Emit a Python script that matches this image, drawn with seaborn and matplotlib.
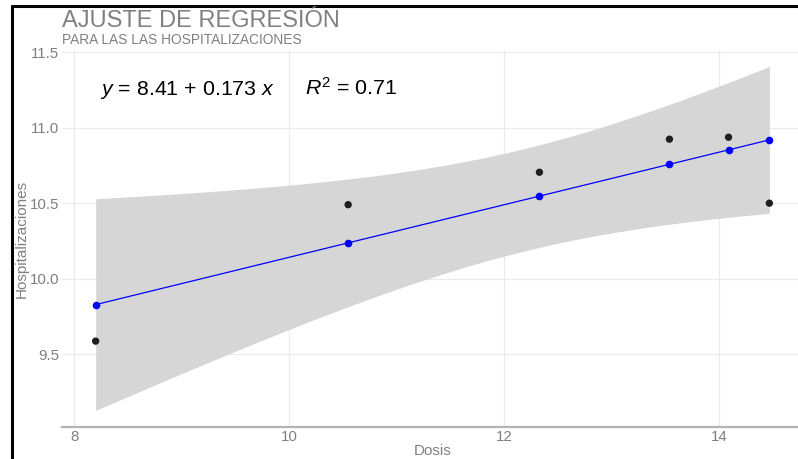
import numpy as np
import pandas as pd
import matplotlib
matplotlib.use("Agg")
import matplotlib.pyplot as plt
from matplotlib.lines import Line2D
import seaborn as sns

# Data
dosis = [8.20, 10.55, 12.33, 13.54, 14.09, 14.47]
hospitalizaciones = [9.586, 10.49, 10.705, 10.924, 10.937, 10.50]
x_ticks = [8, 10, 12, 14]
y_ticks = [9.5, 10.0, 10.5, 11.0, 11.5]
title = "AJUSTE DE REGRESIÓN"
subtitle = "PARA LAS LAS HOSPITALIZACIONES"
eq_text = r"$\mathit{y}$ = 8.41 + 0.173 $\mathit{x}$"
r2_text = r"$\mathit{R}^2$ = 0.71"

df = pd.DataFrame({"Dosis": dosis, "Hospitalizaciones": hospitalizaciones})

# Linear fit and 95% confidence band (t, df = n-2 = 4)
x = np.asarray(dosis)
y = np.asarray(hospitalizaciones)
slope, intercept = np.polyfit(x, y, 1)
df["fit"] = intercept + slope * x
n = len(x)
resid = y - df["fit"].to_numpy()
s = np.sqrt(np.sum(resid ** 2) / (n - 2))
sxx = np.sum((x - x.mean()) ** 2)
t_crit = 2.776445
xs = np.linspace(x.min(), x.max(), 80)
ys = intercept + slope * xs
half = t_crit * s * np.sqrt(1.0 / n + (xs - x.mean()) ** 2 / sxx)

sns.set_theme(style="whitegrid")
plt.rcParams["font.family"] = ["Liberation Sans", "DejaVu Sans"]
plt.rcParams["mathtext.fontset"] = "custom"
plt.rcParams["mathtext.rm"] = "Liberation Sans"
plt.rcParams["mathtext.it"] = "Liberation Sans:italic"

fig = plt.figure(figsize=(7.98, 4.59), dpi=100)
W, H = 798, 459
ax = fig.add_axes([62 / W, 32 / H, (803 - 62) / W, (427 - 50) / H])

ax.fill_between(xs, ys - half, ys + half, color="#d6d6d6", lw=0, zorder=1)
sns.scatterplot(data=df, x="Dosis", y="Hospitalizaciones", color="#1e1e1e",
                s=28, edgecolor="none", ax=ax, zorder=3)
sns.lineplot(data=df, x="Dosis", y="fit", color="#0000ff", lw=0.9,
             marker="o", markersize=5.5, markeredgewidth=0, ax=ax, zorder=4)

ax.set_xlim(7.887, 14.783)
ax.set_ylim(9.017, 11.515)
ax.set_xticks(x_ticks)
ax.set_yticks(y_ticks)
ax.set_yticklabels([f"{v:.1f}" for v in y_ticks])
ax.grid(True, color="#ebebeb", lw=0.9)
ax.set_facecolor("white")
for side in ["left", "right", "top"]:
    ax.spines[side].set_visible(False)
ax.spines["bottom"].set_color("#b3b3b3")
ax.spines["bottom"].set_linewidth(1.6)
ax.tick_params(axis="both", colors="#7f7f7f", labelsize=10.8, length=0, pad=2)
ax.tick_params(axis="x", pad=2)
ax.set_xlabel("Dosis", color="#7f7f7f", fontsize=11, labelpad=0)
ax.set_ylabel("Hospitalizaciones", color="#7f7f7f", fontsize=11, labelpad=1)

ax.text(8.24, 11.215, eq_text, fontsize=15.4, color="black", va="baseline", ha="left")
ax.text(10.15, 11.215, r2_text, fontsize=15.4, color="black", va="baseline", ha="left")

fig.text(62 / W, 1 - 27 / H, title, fontsize=17, color="#808080", va="baseline", ha="left")
fig.text(62 / W, 1 - 43.5 / H, subtitle, fontsize=9.9, color="#808080", va="baseline", ha="left")

# black frame on left and top (screenshot border)
fig.add_artist(Line2D([12 / W, 12 / W], [0, 1 - 6 / H], color="black", lw=2.2, transform=fig.transFigure))
fig.add_artist(Line2D([12 / W, 1], [1 - 6 / H, 1 - 6 / H], color="black", lw=2.2, transform=fig.transFigure))

fig.savefig("out.png", dpi=100)
